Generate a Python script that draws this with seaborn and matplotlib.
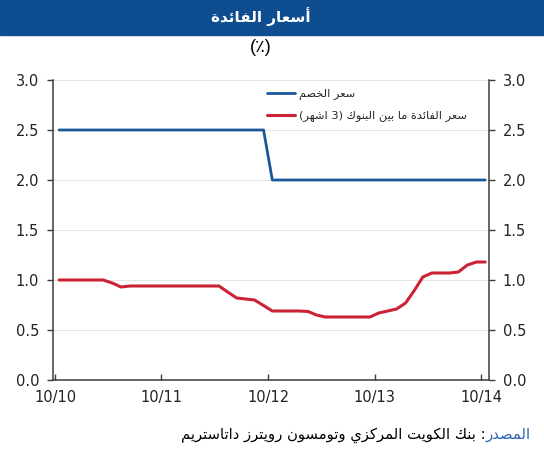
import re

import matplotlib
matplotlib.use("Agg")
import matplotlib.pyplot as plt
import matplotlib.dates as mdates
from matplotlib.patches import Rectangle
from matplotlib.offsetbox import TextArea, HPacker, AnchoredOffsetbox
import pandas as pd
import seaborn as sns

# Texts (logical Arabic order, shaped before drawing).
title_text = "أسعار الفائدة"
unit_text = "(٪)"
discount_name = "سعر الخصم"
interbank_name = "سعر الفائدة ما بين البنوك (3 اشهر)"
source_label = "المصدر"
source_text = ": بنك الكويت المركزي وتومسون رويترز داتاستريم"

# Monthly observations, Oct 2010 - Oct 2014.
months = pd.date_range("2010-10-01", "2014-10-01", freq="MS") + pd.Timedelta(days=14)

discount_rate = [2.5, 2.5, 2.5, 2.5, 2.5, 2.5, 2.5, 2.5, 2.5, 2.5, 2.5, 2.5,
                 2.5, 2.5, 2.5, 2.5, 2.5, 2.5, 2.5, 2.5, 2.5, 2.5, 2.5, 2.5,
                 2.0, 2.0, 2.0, 2.0, 2.0, 2.0, 2.0, 2.0, 2.0, 2.0, 2.0, 2.0,
                 2.0, 2.0, 2.0, 2.0, 2.0, 2.0, 2.0, 2.0, 2.0, 2.0, 2.0, 2.0,
                 2.0]

interbank_rate = [1.00, 1.00, 1.00, 1.00, 1.00, 1.00, 0.97, 0.93, 0.94, 0.94,
                  0.94, 0.94, 0.94, 0.94, 0.94, 0.94, 0.94, 0.94, 0.94, 0.88,
                  0.82, 0.81, 0.80, 0.745, 0.69, 0.69, 0.69, 0.69, 0.685, 0.65,
                  0.63, 0.63, 0.63, 0.63, 0.63, 0.63, 0.67, 0.69, 0.71, 0.77,
                  0.90, 1.03, 1.07, 1.07, 1.07, 1.08, 1.15, 1.18, 1.18]

y_ticks = [0.0, 0.5, 1.0, 1.5, 2.0, 2.5, 3.0]
x_ticks = pd.to_datetime(["2010-10-01", "2011-10-01", "2012-10-01",
                          "2013-10-01", "2014-10-01"])

# Arabic letter -> (isolated presentation form, joins to following letter)
FORMS = {
    "ا": (0xFE8D, False), "أ": (0xFE83, False), "ب": (0xFE8F, True),
    "ة": (0xFE93, False), "ت": (0xFE95, True), "خ": (0xFEA5, True),
    "د": (0xFEA9, False), "ر": (0xFEAD, False), "ز": (0xFEAF, False),
    "س": (0xFEB1, True), "ش": (0xFEB5, True), "ص": (0xFEB9, True),
    "ع": (0xFEC9, True), "ف": (0xFED1, True), "ك": (0xFED9, True),
    "ل": (0xFEDD, True), "م": (0xFEE1, True), "ن": (0xFEE5, True),
    "ه": (0xFEE9, True), "و": (0xFEED, False), "ي": (0xFEF1, True),
    "ئ": (0xFE89, True),
}


def arabic(text):
    """ Shape Arabic letters and put the string in visual (LTR) order. """
    out = []
    for i, ch in enumerate(text):
        if ch not in FORMS:
            out.append(ch)
            continue
        base, dual = FORMS[ch]
        prev = text[i - 1] if i > 0 else ""
        nxt = text[i + 1] if i + 1 < len(text) else ""
        joined_prev = prev in FORMS and FORMS[prev][1]
        joined_next = dual and nxt in FORMS
        if joined_prev and joined_next:
            out.append(chr(base + 3))
        elif joined_prev:
            out.append(chr(base + 1))
        elif joined_next:
            out.append(chr(base + 2))
        else:
            out.append(chr(base))
    vis = "".join(out)[::-1]
    vis = vis.translate(str.maketrans("()", ")("))
    return re.sub(r"\d+", lambda m: m.group(0)[::-1], vis)


sns.set_style("white")
plt.rcParams["font.family"] = ["DejaVu Sans"]
fonts = ["Liberation Sans", "DejaVu Sans"]

blue = "#1b5799"
red = "#cc2236"
header = "#0d4d90"

fig = plt.figure(figsize=(5.44, 4.5), dpi=100)
ax = fig.add_axes([53 / 544, 70 / 450, 436 / 544, 300 / 450])

# Header bar and titles.
fig.patches.append(Rectangle((0, 1 - 35 / 450), 1, 35 / 450,
                             transform=fig.transFigure, color=header,
                             zorder=0))
fig.text(261 / 544, 1 - 17 / 450, arabic(title_text), color="white",
         fontsize=11, fontweight="bold", ha="center", va="center",
         family=["DejaVu Sans"])
fig.text(261 / 544, 1 - 48 / 450, unit_text, color="black", fontsize=13,
         ha="center", va="center", family=fonts)

sns.lineplot(x=months, y=discount_rate, ax=ax, color=blue, linewidth=2.0,
             label=arabic(discount_name))
sns.lineplot(x=months, y=interbank_rate, ax=ax, color=red, linewidth=2.2,
             label=arabic(interbank_name))

ax.set_ylim(0, 3.0)
ax.set_xlim(pd.Timestamp("2010-09-24"), pd.Timestamp("2014-10-28"))
ax.set_yticks(y_ticks)
ax.set_xticks(x_ticks)
ax.xaxis.set_major_formatter(mdates.DateFormatter("%m/%y"))
ax.yaxis.set_major_formatter(matplotlib.ticker.FormatStrFormatter("%.1f"))

ax.grid(axis="y", color="#e4e4e4", linewidth=0.7)
ax.set_axisbelow(True)
for side in ["left", "right", "bottom"]:
    ax.spines[side].set_color("#3c3c3c")
    ax.spines[side].set_linewidth(1.1)
ax.spines["top"].set_visible(False)

ax.tick_params(axis="y", which="both", direction="out", length=4, width=1,
               color="#3c3c3c", left=True, right=True, labelleft=True,
               labelright=True, labelsize=10.5, pad=6, labelcolor="#222222")
ax.tick_params(axis="x", direction="in", length=4, width=1, color="#3c3c3c",
               bottom=True, labelsize=10.5, pad=7, labelcolor="#222222")
ax.set_xlabel("")
ax.set_ylabel("")

ax.legend(loc="upper left", bbox_to_anchor=(0.49, 0.97), frameon=False,
          prop={"family": ["DejaVu Sans"], "size": 8.2},
          handlelength=2.5, handletextpad=0.3, labelspacing=0.92,
          borderpad=0, borderaxespad=0)

# Source line: blue label on the right, black text to its left.
src_black = TextArea(arabic(source_text),
                     textprops={"color": "black", "fontsize": 10.6,
                                "family": ["DejaVu Sans"]})
src_blue = TextArea(arabic(source_label),
                    textprops={"color": "#2a63b0", "fontsize": 10.6,
                               "family": ["DejaVu Sans"]})
box = AnchoredOffsetbox(loc="center right",
                        child=HPacker(children=[src_black, src_blue],
                                      pad=0, sep=0),
                        frameon=False, bbox_to_anchor=(0.975, 1 - 435 / 450),
                        bbox_transform=fig.transFigure, borderpad=0, pad=0)
fig.add_artist(box)

fig.savefig("out.png", dpi=100)
